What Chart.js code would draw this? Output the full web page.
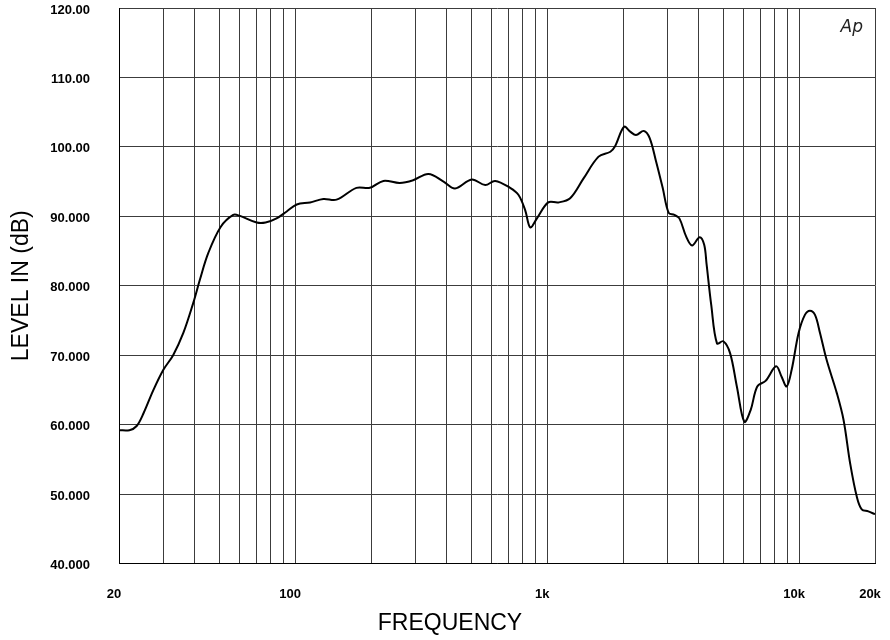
<!DOCTYPE html>
<html>
<head>
<meta charset="utf-8">
<script src="https://cdn.jsdelivr.net/npm/chart.js@4.4.0/dist/chart.umd.min.js"></script>
<style>
  body { margin: 0; background: #fff; }
  .box { width: 890px; height: 640px; }
</style>
</head>
<body>
<div class="box"><canvas id="response"></canvas></div>
<script>
// frequency response
const freq = [20, 22, 23.5, 25, 27.4, 30, 32.8, 36, 39.4, 41.9, 45.2, 50.7, 56.8, 60, 70.4, 76.3, 84.4, 92.6,
    101.5, 114.6, 129.4, 146, 175, 198, 224, 260, 294, 338, 388, 431, 502, 568, 622, 713, 769, 818, 857, 911,
    1010, 1108, 1234, 1397, 1600, 1782, 1860, 2020, 2136, 2252, 2418, 2550, 2706, 2874, 3036, 3198, 3348, 3560,
    3760, 4030, 4200, 4290, 4480, 4720, 5000, 5320, 5660, 6060, 6420, 6820, 7360, 8100, 8520, 8920, 9340, 9950,
    10540, 11040, 11560, 12100, 12860, 14120, 15000, 15940, 16940, 17720, 18820, 20000];
const level = [59.2, 59.2, 59.8, 61.6, 65.0, 67.9, 70.0, 73.2, 77.5, 80.9, 84.7, 88.5, 90.2, 90.1, 89.1, 89.1, 89.7, 90.7,
    91.7, 92.0, 92.5, 92.4, 94.1, 94.1, 95.1, 94.8, 95.2, 96.1, 95.0, 94.0, 95.3, 94.5, 95.1, 94.1, 93.1, 90.9, 88.4, 89.7,
    92.0, 92.0, 92.6, 95.5, 98.6, 99.3, 100.1, 102.9, 102.2, 101.7, 102.3, 101.3, 97.9, 94.1, 90.5, 90.2, 89.7, 87.1,
    85.8, 87.0, 85.9, 83.2, 77.2, 71.7, 72.0, 70.3, 65.5, 60.4, 62.1, 65.5, 66.3, 68.4, 66.9, 65.5, 67.9, 73.2,
    75.8, 76.4, 75.8, 73.2, 69.3, 64.5, 60.7, 54.4, 49.6, 47.8, 47.5, 47.1];

const xTickValues = [20, 100, 1000, 10000, 20000];
const xTickLabels = ['20', '100', '1k', '10k', '20k'];
const xTitle = 'FREQUENCY';
const yTitle = 'LEVEL IN (dB)';

const tickFont = { family: '"Liberation Sans", Arial, sans-serif', size: 13, weight: 'bold' };

// stop chart.js from reserving room for the edge labels
function noPad(s) {
    s.paddingTop = 0; s.paddingBottom = 0; s.paddingLeft = 0; s.paddingRight = 0;
}

// axis titles + Ap mark drawn by hand
const extraText = {
    id: 'extraText',
    afterDraw(chart) {
        const ctx = chart.ctx;
        const a = chart.chartArea;
        ctx.save();
        ctx.fillStyle = '#000';
        ctx.font = '23px "Liberation Sans", Arial, sans-serif';
        ctx.textAlign = 'center';
        ctx.textBaseline = 'middle';
        ctx.fillText(xTitle, 450, 624);
        ctx.save();
        ctx.translate(22, (a.top + a.bottom) / 2);
        ctx.rotate(-Math.PI / 2);
        ctx.fillText(yTitle, 0, 0);
        ctx.restore();
        ctx.font = 'italic 300 17px "DejaVu Sans", sans-serif';
        ctx.fillStyle = '#222';
        ctx.textAlign = 'right';
        ctx.fillText('Ap', a.right - 12, a.top + 20);
        ctx.restore();
    }
};

var ctx = document.getElementById('response').getContext('2d');
var myChart = new Chart(ctx, {
    type: 'line',
    data: {
        datasets: [{
            data: freq.map((f, i) => ({ x: f, y: level[i] })),
            borderColor: '#000',
            borderWidth: 2,
            pointRadius: 0,
            tension: 0.35,
            fill: false
        }]
    },
    options: {
        responsive: true,
        maintainAspectRatio: false,
        animation: false,
        layout: { padding: { left: 0, right: 15, top: 8, bottom: 0 } },
        plugins: { legend: { display: false }, tooltip: { enabled: false } },
        scales: {
            x: {
                type: 'logarithmic',
                min: 20,
                max: 20000,
                afterFit: (s) => { s.height = 76.5; noPad(s); },
                grid: { color: '#3c3c3c', lineWidth: 1, drawTicks: false },
                border: { color: '#000', width: 1 },
                ticks: {
                    autoSkip: false,
                    maxRotation: 0,
                    padding: 23,
                    labelOffset: -5,
                    color: '#000',
                    font: tickFont,
                    callback: (v) => {
                        // only 1..9 x 10^n get a grid line
                        const mant = v / Math.pow(10, Math.floor(Math.log10(v) + 1e-9));
                        if (Math.abs(mant - Math.round(mant)) > 1e-6) return null;
                        const k = xTickValues.indexOf(Math.round(v));
                        return k >= 0 ? xTickLabels[k] : '';
                    }
                }
            },
            y: {
                min: 40,
                max: 120,
                afterFit: (s) => { s.width = 119; noPad(s); },
                grid: { color: '#3c3c3c', lineWidth: 1, drawTicks: false },
                border: { color: '#000', width: 1 },
                ticks: {
                    stepSize: 10,
                    padding: 29,
                    labelOffset: 2,
                    color: '#000',
                    font: tickFont,
                    callback: (v) => v >= 100 ? v.toFixed(2) : v.toFixed(3)
                }
            }
        }
    },
    plugins: [extraText]
});
</script>
</body>
</html>
